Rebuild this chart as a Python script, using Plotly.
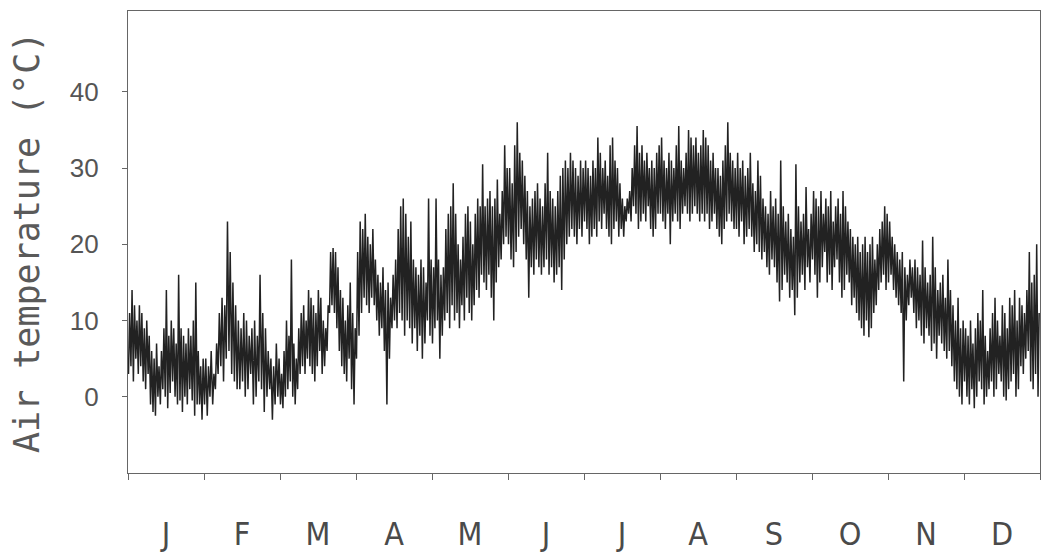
import plotly.graph_objects as go

# Month labels (J..D)
MONTH_LABELS = ["J", "F", "M", "A", "M", "J", "J", "A", "S", "O", "N", "D"]

# Daily maximum air temperature (deg C), one sub-list per month
TMAX = [
    [11, 14, 12, 10, 12, 11, 9, 10, 8, 6, 5, 7, 4, 6, 9, 14, 8, 10, 9, 7, 16, 9, 8, 7, 9, 8, 10, 15, 6, 4, 5],
    [5, 4, 6, 3, 7, 11, 13, 12, 23, 19, 15, 12, 10, 9, 11, 10, 8, 9, 10, 8, 16, 11, 9, 6, 5, 4, 7, 5],
    [3, 6, 10, 8, 18, 7, 5, 9, 11, 12, 10, 14, 13, 12, 11, 14, 13, 10, 9, 12, 19, 19.5, 19, 17, 14, 13, 10, 12, 15, 11, 9],
    [19, 23, 22, 24, 21, 20, 22, 18, 16, 15, 17, 14, 15, 13, 16, 18, 22, 25, 26, 24, 21, 23, 18, 17, 16, 18, 17, 15, 26, 18],
    [17, 26, 18, 16, 17, 22, 24, 25, 28, 24, 20, 18, 21, 24, 25, 23, 20, 24, 26, 25, 30.5, 25, 26, 27, 25, 26, 28.5, 24, 27, 33, 30],
    [30, 28, 33, 36, 32, 31, 29, 27, 25, 26, 27, 28, 26, 25, 28, 32, 27, 26, 25, 27, 29, 30, 31, 30, 32, 31, 30, 29, 31, 30],
    [31, 30, 29, 31, 30, 34, 32, 30, 31, 29, 33, 34, 31, 30, 28, 26, 25, 26, 27, 30, 33, 35.5, 32, 33, 31, 32, 30, 31, 30, 32, 33],
    [34, 31, 30, 32, 31, 30, 33, 35.5, 31, 30, 32, 35, 34, 33, 34, 32, 33, 35, 34, 33, 31, 32, 30, 30, 29, 31, 33, 36, 32, 31, 30],
    [32, 30, 31, 29, 30, 32, 28, 27, 31, 29, 26, 25, 24, 27, 25, 26, 24, 31, 25, 23, 24, 22, 21, 30.5, 25, 23, 24, 27.5, 22, 24],
    [27, 26, 25, 27, 24, 26, 25, 27, 23, 25, 26, 24, 27, 25, 23, 22, 21, 20, 21, 19, 20, 21, 19, 20, 21, 18, 20, 22, 23, 25, 24],
    [23, 21, 20, 19, 18, 19, 17, 16, 18, 17, 18, 17, 16, 20.5, 17, 15, 16, 21, 17, 14, 15, 16, 13, 18, 14, 12, 10, 13, 9, 10],
    [9, 8, 10, 7, 9, 11, 10, 14, 8, 6, 9, 11, 13, 10, 8, 12, 11, 9, 13, 12, 14, 10, 13, 12, 11, 14, 19, 15, 16, 20, 11],
]

# Daily minimum air temperature (deg C)
TMIN = [
    [3, 4, 2, 5, 3, 4, 2, 1, 3, -1, -2, -2.5, 0, -1, 1, 0, -1.5, 0.5, 2, 0, -1, -0.5, -2, 0, -1, 1, -0.5, -2.5, -1, -1, -3],
    [-1, -2.5, 0, -1, 1, 3, 4, 2, 5, 6, 3, 2, 1, 1, 2, 0, 1, 3, -1, 0, 2, 1, -2, 0, 1, -3, -1, 0],
    [-1, -1.5, 0, 1, 2, 0, -1, 1, 3, 4, 3, 5, 4, 3, 2, 4, 6, 3, 4, 6, 11, 12, 11, 9, 6, 4, 3, 2, 5, 1, -1],
    [5, 8, 11, 13, 12, 11, 13, 12, 10, 8, 9, 6, -1, 5, 9, 10, 9, 11, 10, 8, 10, 9, 7, 9, 6, 8, 5, 7, 10, 8],
    [7, 9, 10, 5, 8, 10, 11, 9, 12, 10, 11, 9, 12, 10, 13, 11, 10, 12, 14, 13, 16, 15, 14, 16, 13, 10, 15, 17, 18, 20, 21],
    [20, 18, 17, 19, 21, 22, 20, 18, 13, 17, 16, 18, 17, 16, 17, 18, 16, 17, 15, 16, 17, 14, 18, 20, 21, 22, 21, 20, 22, 21],
    [23, 22, 20, 21, 22, 21, 23, 22, 24, 22, 21, 20, 22, 23, 21, 22, 21, 23, 24, 23, 25, 24, 22, 23, 24, 23, 25, 22, 21, 22, 24],
    [24, 23, 22, 24, 20, 23, 24, 23, 22, 24, 25, 24, 23, 24, 25, 24, 23, 24, 23, 24, 22, 23, 24, 22, 21, 20, 22, 23, 24, 23, 22],
    [22, 21, 23, 20, 21, 22, 21, 19, 20, 19, 18, 19, 17, 16, 18, 17, 15, 12.5, 14, 16, 15, 13, 14, 10.7, 13, 15, 16, 14, 17, 15],
    [18, 16, 13, 15, 17, 19, 15, 16, 14, 17, 18, 15, 13, 14, 16, 15, 12, 13, 11, 10, 9, 8, 10, 7.8, 9, 11, 12, 14, 15, 16, 14],
    [15, 16, 14, 13, 12, 11, 2, 10, 12, 13, 11, 9, 10, 8, 7, 9, 8, 6, 7, 5, 8, 7, 6, 5, 6, 4, 2, 1, 0, -1],
    [2, 0, -1, 1, -1.5, 0, 2, 1, -1, 0, 1, 2, 0, 1, 3, 2, 0, -0.5, 1, 2, 3, 0, 1, 4, 3, 5, 6, 2, 1, 3, 0],
]

Y_TICKS = [0, 10, 20, 30, 40]

# Build a min -> max -> min trace (diurnal swing) on a month-based x axis
xs, ys = [], []
for m in range(12):
    n = len(TMAX[m])
    for i in range(n):
        xs.append(m + (i + 0.2) / n)
        ys.append(TMIN[m][i])
        xs.append(m + (i + 0.65) / n)
        ys.append(TMAX[m][i])

fig = go.Figure()
fig.add_trace(go.Scatter(
    x=xs, y=ys, mode="lines",
    line=dict(color="#222222", width=1.5),
    hoverinfo="skip", showlegend=False,
))

axis_col = "#666666"
fig.update_layout(
    width=1042, height=555,
    margin=dict(l=128, r=2, t=11, b=82),
    paper_bgcolor="white", plot_bgcolor="white",
    xaxis=dict(
        range=[0, 12], showgrid=False, zeroline=False, automargin=False,
        showline=True, mirror=True, linecolor=axis_col, linewidth=1.3,
        tickvals=[m + 0.5 for m in range(12)], ticktext=MONTH_LABELS,
        ticks="", ticklabelstandoff=32,
        tickfont=dict(family="DejaVu Sans Condensed, Roboto, sans-serif",
                      size=32, color="#4a4a4a"),
        minor=dict(tick0=0, dtick=1, ticks="outside", ticklen=6, tickcolor=axis_col, tickwidth=1.2, showgrid=False),
    ),
    yaxis=dict(
        range=[-10, 50.6], showgrid=False, zeroline=False, automargin=False,
        showline=True, mirror=True, linecolor=axis_col, linewidth=1.3,
        tickvals=Y_TICKS, ticks="outside", ticklen=5, tickcolor=axis_col, tickwidth=1.2,
        ticklabelstandoff=18,
        tickfont=dict(family="Liberation Sans, Arial, sans-serif", size=26, color="#555555"),
    ),
    annotations=[dict(
        text="Air temperature (°C)", textangle=-90,
        xref="paper", yref="paper", x=(27 - 128) / 912, y=(473 - 243) / 462,
        xanchor="center", yanchor="middle", showarrow=False,
        font=dict(family="DejaVu Sans Mono, monospace", size=35, color="#5a5a5a"),
    )],
)

fig.write_html(
    "out.html",
    config={"displayModeBar": False},
    post_script="document.body.style.margin='0';document.body.style.overflow='hidden';",
)
